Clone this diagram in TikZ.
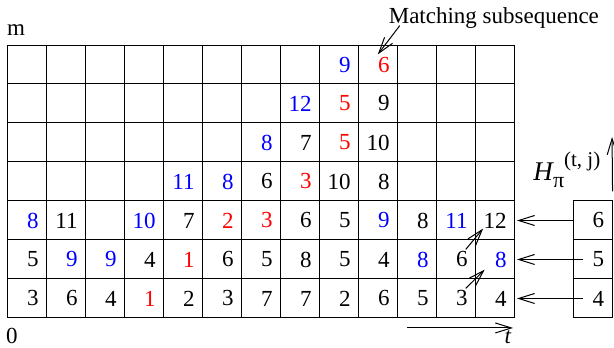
\documentclass[tikz,border=0pt]{standalone}
\usepackage{fontspec}
\setmainfont{Liberation Serif}
\usepackage{xcolor}
\usepackage{tikz}
\usetikzlibrary{arrows.meta, positioning}
\definecolor{matchblue}{HTML}{0000FF}
\definecolor{matchred}{HTML}{FF0000}
\newcommand{\bl}[1]{\textcolor{matchblue}{#1}}
\newcommand{\rd}[1]{\textcolor{matchred}{#1}}

\begin{document}
\begin{tikzpicture}[x=19.5pt, y=19.5pt, font=\fontsize{11.5}{13}\selectfont,
  val/.style={anchor=east, inner sep=4pt},
  hbox/.style={draw, line width=0.5pt, minimum height=19.5pt, inner xsep=4pt, inner ysep=0pt, text width=11.5pt, align=right},
  barb/.style={-{Straight Barb[length=8pt, width=5pt]}, line width=0.5pt}]
  \useasboundingbox (-0.205,-0.769) rectangle (15.54,8.154);

  % Grid
  \draw[line width=0.5pt, step=1] (0,0) grid (13,7);

  % Values, bottom row first
  \foreach \row [count=\r] in {
    {3,6,4,\rd{1},2,3,7,7,2,6,5,3,4},
    {5,\bl{9},\bl{9},4,\rd{1},6,5,8,5,4,\bl{8},6,\bl{8}},
    {\bl{8},11,{},\bl{10},7,\rd{2},\rd{3},6,5,\bl{9},8,\bl{11},12},
    {{},{},{},{},\bl{11},\bl{8},6,\rd{3},10,8},
    {{},{},{},{},{},{},\bl{8},7,\rd{5},10},
    {{},{},{},{},{},{},{},\bl{12},\rd{5},9},
    {{},{},{},{},{},{},{},{},\bl{9},\rd{6}}}
    \foreach \v [count=\c] in \row
      \node[val] (n-\r-\c) at (\c,\r-0.5) {\v};

  % Axis labels
  \node (m) at (0.205,7.38) {m};
  \node (zero) at (0.10,-0.46) {0};
  \coordinate (t0) at (10.23,-0.256);
  \coordinate (t1) at (12.95,-0.256);
  \draw[barb] (t0) -- (t1);
  \node[inner sep=1pt] (t) at (12.82,-0.5) {\textit{t}};

  % Matching subsequence
  \node (match) at (12.46,7.69) {Matching subsequence};
  \draw[barb] ([xshift=9pt, yshift=5pt]match.south west) -- ([xshift=-3pt, yshift=-3pt]n-7-10.north);

  % H column
  \node[hbox] (h-1) at (14.99,0.5) {4};
  \node[hbox] (h-2) at (14.99,1.5) {5};
  \node[hbox] (h-3) at (14.99,2.5) {6};
  \node[inner sep=1pt] (hlabel) at (14.33,3.79) {\fontsize{13.5}{15}\selectfont\textit{H}\kern-0.5pt\raisebox{-0.6ex}{\fontsize{11}{13}\selectfont π}\raisebox{1.1ex}{\fontsize{10.5}{12}\selectfont (t, j)}};
  \coordinate (htop) at (15.49,4.64);
  \draw[barb] ([yshift=4.5pt]h-3.north east) -- (htop);

  % Arrows into the last column
  \draw[barb, shorten >=1pt] (h-3.west) -- (n-3-13.east);
  \draw[barb, shorten >=1pt] ([xshift=5pt]h-2.west) -- (n-2-13.east);
  \draw[barb, shorten >=1pt] ([xshift=5pt]h-1.west) -- (n-1-13.east);
  \draw[barb] ([xshift=2pt, yshift=-3pt]n-2-12.north) -- ([xshift=4pt, yshift=4pt]n-3-13.south west);
  \draw[barb] ([xshift=2pt, yshift=-3pt]n-1-12.north) -- ([xshift=-1pt, yshift=3pt]n-2-13.south west);
\end{tikzpicture}
\end{document}
